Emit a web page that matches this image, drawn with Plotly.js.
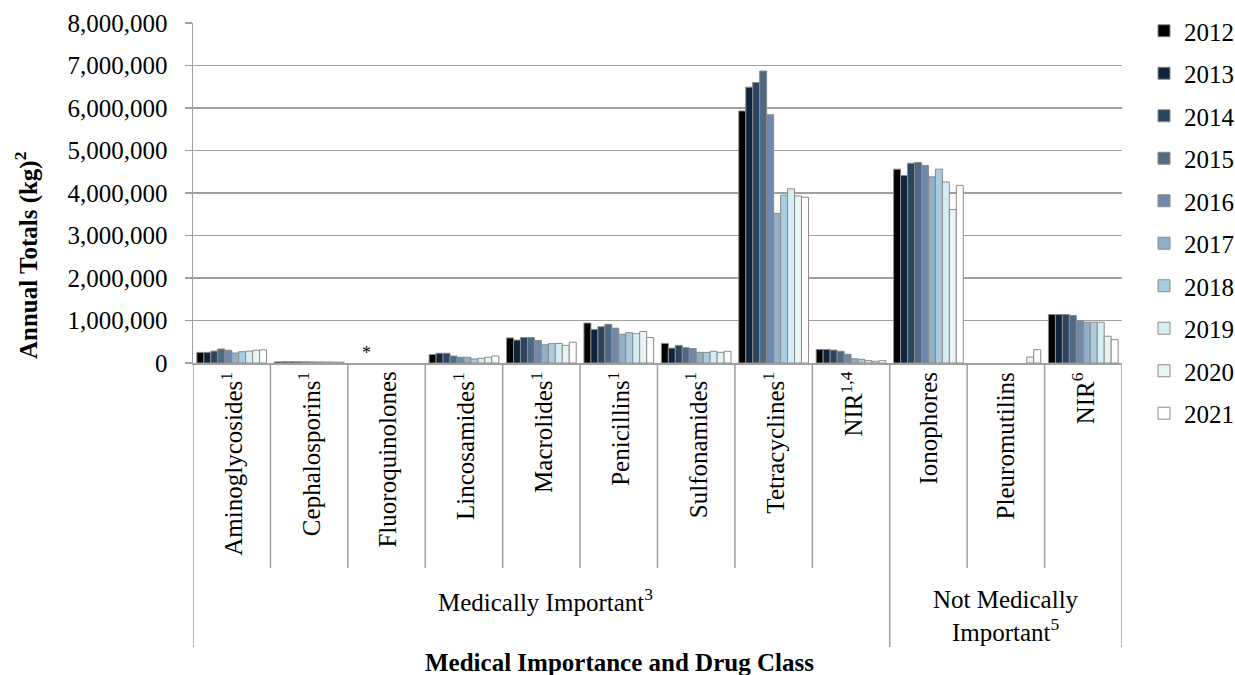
<!DOCTYPE html>
<html>
<head>
<meta charset="utf-8">
<script src="https://cdn.plot.ly/plotly-3.0.1.min.js"></script>
<style>html,body{margin:0;padding:0;background:#fff;}#chart{width:1235px;height:675px;}
#chart text, #chart tspan { font-family: "Liberation Serif", serif !important; }
</style>
</head>
<body>
<div id="chart"></div>
<script>
// ---- data ----
const years = ['2012','2013','2014','2015','2016','2017','2018','2019','2020','2021'];
const categories = ['Aminoglycosides','Cephalosporins','Fluoroquinolones','Lincosamides','Macrolides','Penicillins','Sulfonamides','Tetracyclines','NIR 1,4','Ionophores','Pleuromutilins','NIR 6'];
const categoryLabels = ['Aminoglycosides<sup>1</sup>','Cephalosporins<sup>1</sup>','Fluoroquinolones','Lincosamides<sup>1</sup>','Macrolides<sup>1</sup>','Penicillins<sup>1</sup>','Sulfonamides<sup>1</sup>','Tetracyclines<sup>1</sup>','NIR<sup>1,4</sup>','Ionophores','Pleuromutilins','NIR<sup>6</sup>'];
const groupLabels = ['Medically Important<sup>3</sup>','Not Medically<br>Important<sup>5</sup>'];

const aminoglycosides  = [250000, 250000, 280000, 330000, 300000, 235000, 265000, 280000, 300000, 310000];
const cephalosporins   = [25000, 28000, 30000, 30000, 28000, 26000, 25000, 24000, 22000, 20000];
const fluoroquinolones = [null, null, null, null, null, null, null, null, null, null];
const lincosamides     = [200000, 230000, 230000, 165000, 135000, 135000, 95000, 110000, 135000, 165000];
const macrolides       = [590000, 540000, 600000, 600000, 530000, 430000, 455000, 460000, 415000, 490000];
const penicillins      = [940000, 790000, 855000, 910000, 820000, 675000, 715000, 690000, 740000, 600000];
const sulfonamides     = [460000, 350000, 415000, 360000, 340000, 250000, 250000, 275000, 250000, 275000];
const tetracyclines    = [5930000, 6490000, 6600000, 6870000, 5840000, 3520000, 3950000, 4100000, 3930000, 3900000];
const nirMI            = [320000, 320000, 305000, 275000, 205000, 100000, 85000, 55000, 40000, 55000];
const ionophores       = [4560000, 4410000, 4700000, 4720000, 4650000, 4380000, 4560000, 4260000, 3610000, 4180000];
const pleuromutilins   = [null, null, null, null, null, null, null, null, 140000, 315000];
const nirNMI           = [1140000, 1140000, 1140000, 1120000, 990000, 960000, 960000, 960000, 630000, 550000];

const yearColors = ['#000000','#10243e','#2b4560','#4d6a82','#6e89ad','#91afc6','#a9cde0','#d7edf5','#e8f5f7','#ffffff'];

// ---- build ----
const table = [aminoglycosides, cephalosporins, fluoroquinolones, lincosamides, macrolides, penicillins, sulfonamides, tetracyclines, nirMI, ionophores, pleuromutilins, nirNMI];
const FONT = 'Liberation Serif';

const traces = years.map((yr, j) => ({
  type: 'bar',
  name: yr,
  legendgroup: yr,
  x: categories,
  y: table.map(row => row[j]),
  marker: {color: yearColors[j], line: {color: '#8a8a8a', width: 1}},
  hoverinfo: 'x+y+name'
}));

const L = 193, R = 1122, T = 23, B = 363;
const pw = R - L, ph = B - T;
const py = px => (B - px) / ph;   // pixel y -> paper y
const pxr = px => (px - L) / pw;  // pixel x -> paper x

const shapes = [];
const lineStyle = {color: '#a0a0a0', width: 1.5};
for (let i = 1; i < categories.length; i++) {
  if (i === 9) continue;
  shapes.push({type: 'line', xref: 'x', yref: 'paper', x0: i - 0.5, x1: i - 0.5, y0: 0, y1: py(568), line: lineStyle});
}
[-0.5, 8.5, 11.5].forEach(xv => shapes.push({type: 'line', xref: 'x', yref: 'paper', x0: xv, x1: xv, y0: 0, y1: py(647), line: lineStyle}));

const annotations = categories.map((c, i) => ({
  xref: 'x', yref: 'paper', x: c, y: py(370), text: categoryLabels[i],
  textangle: -90, showarrow: false, xanchor: 'center', yanchor: 'top',
  font: {family: FONT, size: 25, color: '#000'}
}));
annotations.push({xref: 'paper', yref: 'paper', x: pxr(545), y: py(600), text: groupLabels[0], showarrow: false, xanchor: 'center', yanchor: 'middle', font: {family: FONT, size: 25, color: '#000'}});
annotations.push({xref: 'paper', yref: 'paper', x: pxr(1006), y: py(616), text: groupLabels[1], showarrow: false, xanchor: 'center', yanchor: 'middle', font: {family: FONT, size: 25, color: '#000'}});
annotations.push({xref: 'x', yref: 'paper', x: 'Fluoroquinolones', xshift: -20, y: py(353), text: '*', showarrow: false, xanchor: 'center', yanchor: 'middle', font: {family: FONT, size: 18, color: '#000'}});
annotations.push({xref: 'paper', yref: 'paper', x: pxr(619), y: py(662), text: '<b>Medical Importance and Drug Class</b>', showarrow: false, xanchor: 'center', yanchor: 'middle', font: {family: FONT, size: 25, color: '#000'}});
annotations.push({xref: 'paper', yref: 'paper', x: pxr(26), y: py(256), text: '<b>Annual Totals (kg)<sup>2</sup></b>', textangle: -90, showarrow: false, xanchor: 'center', yanchor: 'middle', font: {family: FONT, size: 25, color: '#000'}});

const layout = {
  width: 1235, height: 675,
  margin: {l: L, r: 1235 - R, t: T, b: 675 - B, pad: 0, autoexpand: false},
  paper_bgcolor: '#fff', plot_bgcolor: '#fff',
  barmode: 'group', bargap: 0.1, bargroupgap: 0,
  font: {family: FONT, size: 25, color: '#000'},
  xaxis: {type: 'category', range: [-0.5, 11.5], showticklabels: false, ticks: '', showgrid: false,
          showline: true, linecolor: '#a0a0a0', linewidth: 1.5, zeroline: false, fixedrange: true},
  yaxis: {range: [0, 8000000], dtick: 1000000, tickformat: ',d', ticks: 'outside', ticklen: 7,
          tickcolor: '#a0a0a0', tickwidth: 1.5, showline: true, linecolor: '#a0a0a0', linewidth: 1.5,
          showgrid: true, gridcolor: '#a0a0a0', gridwidth: 1.5, zeroline: false, ticklabelstandoff: 12,
          tickfont: {family: FONT, size: 25, color: '#000'}},
  legend: {x: pxr(1144), xanchor: 'left', y: py(8), yanchor: 'top', traceorder: 'grouped', tracegroupgap: 7,
           maxheight: 660,
           font: {family: FONT, size: 25, color: '#000'}, bgcolor: 'rgba(0,0,0,0)', borderwidth: 0},
  shapes: shapes,
  annotations: annotations,
  showlegend: true
};

Plotly.newPlot('chart', traces, layout, {displayModeBar: false, staticPlot: true});
</script>
</body>
</html>
